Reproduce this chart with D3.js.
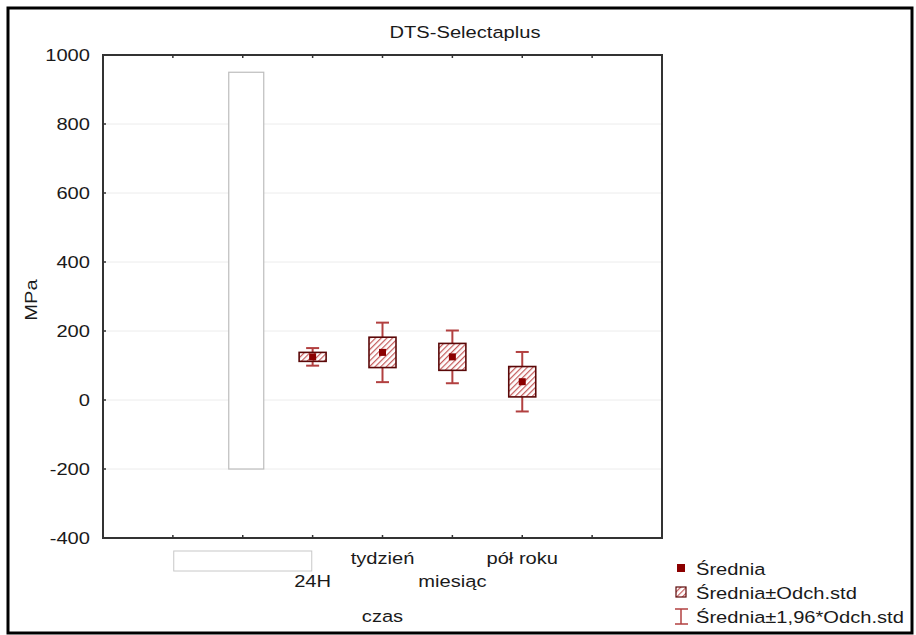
<!DOCTYPE html>
<html>
<head>
<meta charset="utf-8">
<script src="https://cdn.jsdelivr.net/npm/d3@7"></script>
<style>
  body { margin: 0; background: #fff; }
  svg text { font-family: "Liberation Sans", Arial, sans-serif; fill: #1a1a1a; }
</style>
</head>
<body>
<svg id="chart" width="916" height="635"></svg>
<script>
// ----- data
const categories = ["", "24H", "tydzień", "miesiąc", "pół roku"];
const means = [null, 125, 138, 125, 53];
const stdDevs = [null, 13, 44, 39, 44];
const blankRange = [-200, 950];        // empty first category box
const yTicks = [-400, -200, 0, 200, 400, 600, 800, 1000];
const legendLabels = ["Średnia", "Średnia±Odch.std", "Średnia±1,96*Odch.std"];
const chartTitle = "DTS-Selectaplus";
const xTitle = "czas";
const yTitle = "MPa";

// ----- layout
const plot = { left: 103, top: 55, right: 662, bottom: 538 };
const fontSize = 16.5;
const stretch = 1.22;   // text in the reference is horizontally stretched
const whiskerColor = "#b24040";
const boxStroke = "#5a0808";
const markColor = "#8b0000";
const hatchColor = "#c45a5a";

const svg = d3.select("#chart");

// hatch pattern
const defs = svg.append("defs");
const pat = defs.append("pattern")
  .attr("id", "hatch")
  .attr("patternUnits", "userSpaceOnUse")
  .attr("width", 4).attr("height", 4)
  .attr("patternTransform", "rotate(45)");
pat.append("rect").attr("width", 4).attr("height", 4).attr("fill", "#fff");
pat.append("line")
  .attr("x1", 0).attr("y1", 0).attr("x2", 0).attr("y2", 4)
  .attr("stroke", hatchColor).attr("stroke-width", 2.4);

// helper for stretched text
function label(x, y, txt, anchor, rot) {
  const r = rot ? ` rotate(${rot})` : "";
  return svg.append("text")
    .attr("transform", `translate(${x},${y})${r} scale(${stretch},1)`)
    .attr("text-anchor", anchor || "start")
    .attr("font-size", fontSize)
    .text(txt);
}

// outer frame
svg.append("rect")
  .attr("x", 8).attr("y", 8).attr("width", 904).attr("height", 625)
  .attr("fill", "none").attr("stroke", "#000").attr("stroke-width", 3);

// scales
const x = d3.scaleLinear().domain([-2, 6]).range([plot.left, plot.right]);
const y = d3.scaleLinear().domain([-400, 1000]).range([plot.bottom, plot.top]);

// gridlines
svg.append("g").selectAll("line")
  .data(yTicks.filter(t => t > -400 && t < 1000))
  .join("line")
    .attr("x1", plot.left).attr("x2", plot.right)
    .attr("y1", d => y(d)).attr("y2", d => y(d))
    .attr("stroke", "#ececec").attr("stroke-width", 1);

// y tick labels + ticks
yTicks.forEach(t => {
  label(plot.left - 13, y(t) + 6, t, "end");
  svg.append("line")
    .attr("x1", plot.left).attr("x2", plot.left + 3)
    .attr("y1", y(t)).attr("y2", y(t))
    .attr("stroke", "#333").attr("stroke-width", 1.5);
});

// x ticks (top and bottom, pointing inward)
d3.range(-1, 6).forEach(i => {
  svg.append("line")
    .attr("x1", x(i)).attr("x2", x(i))
    .attr("y1", plot.bottom).attr("y2", plot.bottom - 3)
    .attr("stroke", "#333").attr("stroke-width", 1.5);
  svg.append("line")
    .attr("x1", x(i)).attr("x2", x(i))
    .attr("y1", plot.top).attr("y2", plot.top + 3)
    .attr("stroke", "#333").attr("stroke-width", 1.5);
});

// empty category box
svg.append("rect")
  .attr("x", x(0) - 14).attr("width", 35)
  .attr("y", y(blankRange[1])).attr("height", y(blankRange[0]) - y(blankRange[1]))
  .attr("fill", "#fff").attr("stroke", "#bdbdbd").attr("stroke-width", 1.2);

// whiskers, boxes and means
const boxW = 27, capW = 13, markS = 7;
const stats = categories.map((c, i) => ({ i, c, m: means[i], s: stdDevs[i] }))
  .filter(d => d.m !== null);

const g = svg.append("g");
stats.forEach(d => {
  const cx = x(d.i);
  const lo = d.m - 1.96 * d.s, hi = d.m + 1.96 * d.s;
  g.append("line")
    .attr("x1", cx).attr("x2", cx).attr("y1", y(hi)).attr("y2", y(lo))
    .attr("stroke", whiskerColor).attr("stroke-width", 2);
  [lo, hi].forEach(v => {
    g.append("line")
      .attr("x1", cx - capW / 2).attr("x2", cx + capW / 2)
      .attr("y1", y(v)).attr("y2", y(v))
      .attr("stroke", whiskerColor).attr("stroke-width", 2);
  });
  g.append("rect")
    .attr("x", cx - boxW / 2).attr("width", boxW)
    .attr("y", y(d.m + d.s)).attr("height", y(d.m - d.s) - y(d.m + d.s))
    .attr("fill", "url(#hatch)").attr("stroke", boxStroke).attr("stroke-width", 1.6);
  g.append("rect")
    .attr("x", cx - markS / 2).attr("y", y(d.m) - markS / 2)
    .attr("width", markS).attr("height", markS)
    .attr("fill", markColor);
});

// plot frame
svg.append("rect")
  .attr("x", plot.left).attr("y", plot.top)
  .attr("width", plot.right - plot.left).attr("height", plot.bottom - plot.top)
  .attr("fill", "none").attr("stroke", "#333").attr("stroke-width", 2);

// category labels, staggered
categories.forEach((c, i) => {
  const base = i % 2 === 0 ? 564 : 587;
  if (c === "") {
    svg.append("rect")
      .attr("x", x(i) - 69).attr("y", base - 13)
      .attr("width", 138).attr("height", 20)
      .attr("fill", "#fff").attr("stroke", "#c8c8c8").attr("stroke-width", 1);
  } else {
    label(x(i), base, c, "middle");
  }
});

// titles
label(465, 38, chartTitle, "middle");
label(x(2), 622, xTitle, "middle");
label(37, 300, yTitle, "middle", -90);

// legend
const lx = 681, ly = [568, 592, 616];
svg.append("rect")
  .attr("x", lx - 4).attr("y", ly[0] - 4).attr("width", 8).attr("height", 8)
  .attr("fill", markColor);
svg.append("rect")
  .attr("x", lx - 5).attr("y", ly[1] - 5).attr("width", 10).attr("height", 10)
  .attr("fill", "url(#hatch)").attr("stroke", boxStroke).attr("stroke-width", 1.2);
svg.append("line")
  .attr("x1", lx).attr("x2", lx).attr("y1", ly[2] - 7).attr("y2", ly[2] + 8)
  .attr("stroke", whiskerColor).attr("stroke-width", 1.5);
[ly[2] - 7, ly[2] + 8].forEach(v => {
  svg.append("line")
    .attr("x1", lx - 6).attr("x2", lx + 7).attr("y1", v).attr("y2", v)
    .attr("stroke", whiskerColor).attr("stroke-width", 1.5);
});
legendLabels.forEach((t, i) => label(696, ly[i] + 7, t, "start"));
</script>
</body>
</html>
